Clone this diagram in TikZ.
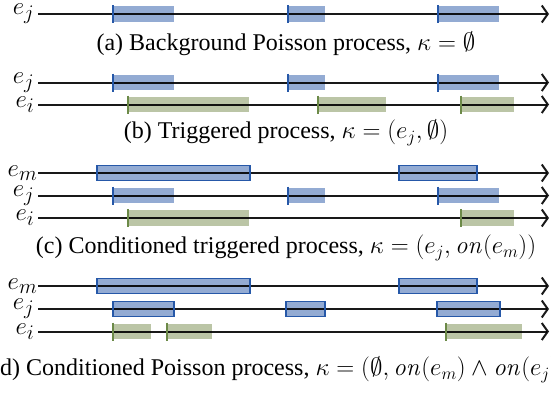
\documentclass[tikz,border=0pt]{standalone}
\usepackage[no-math]{fontspec}
\setmainfont{Liberation Serif}
\usetikzlibrary{arrows.meta}
\definecolor{bfill}{RGB}{147,171,211}
\definecolor{bdark}{RGB}{38,88,168}
\definecolor{gfill}{RGB}{187,197,166}
\definecolor{gdark}{RGB}{108,138,72}
\newcommand\ebox[4]{\fill[#1] (#2,#4-7.7) rectangle (#3,#4+7.7);}
\newcommand\mbx[3]{\fill[bfill] (#1,#3-8.3) rectangle (#2,#3+8.3);}
\newcommand\mbd[3]{\draw[bdark,line width=1.8pt] (#1,#3-7.5) rectangle (#2,#3+7.5);}
\newcommand\etick[3]{\draw[#1,line width=2.4pt] (#2+1,#3-9) -- (#2+1,#3+9);}
\begin{document}
\begin{tikzpicture}[x=1pt,y=-1pt,
  axis/.style={line width=2pt,draw opacity=0.9,-{Straight Barb[length=6pt,width=17pt]}},
  lab/.style={anchor=east,inner sep=0pt,font=\fontsize{28}{28}\selectfont},
  captxt/.style={inner sep=0pt,font=\fontsize{24}{28}\selectfont}]
\useasboundingbox (0,0) rectangle (551,394);
% ---------- (a)
\ebox{bfill}{112}{174}{14}\ebox{bfill}{287}{325}{14}\ebox{bfill}{437}{499}{14}
\node[lab] (aj) at (34.5,14) {$e_j$};
\coordinate (ajs) at (38,14);
\coordinate (aje) at (549,14);
\draw[axis] (ajs) -- (aje);
\etick{bdark}{112}{14}\etick{bdark}{287}{14}\etick{bdark}{437}{14}
\node[captxt] (capa) at (286,44) {(a) Background Poisson process, $\kappa=\emptyset$};
% ---------- (b)
\ebox{bfill}{112}{174}{82.5}\ebox{bfill}{287}{325}{82.5}\ebox{bfill}{437}{499}{82.5}
\ebox{gfill}{127}{249}{104.5}\ebox{gfill}{317}{386}{104.5}\ebox{gfill}{460}{514}{104.5}
\node[lab] (bj) at (34.5,82.5) {$e_j$};
\node[lab] (bi) at (34.5,104.5) {$e_i$};
\coordinate (bjs) at (38,82.5);
\coordinate (bis) at (38,104.5);
\coordinate (bje) at (549,82.5);
\coordinate (bie) at (549,104.5);
\draw[axis] (bjs) -- (bje);
\draw[axis] (bis) -- (bie);
\etick{bdark}{112}{82.5}\etick{bdark}{287}{82.5}\etick{bdark}{437}{82.5}
\etick{gdark}{127}{104.5}\etick{gdark}{317}{104.5}\etick{gdark}{460}{104.5}
\node[captxt] (capb) at (286,133) {(b) Triggered process, $\kappa=(e_j,\emptyset)$};
% ---------- (c)
\mbx{97}{250}{173}\mbx{399}{477}{173}
\ebox{bfill}{112}{174}{195.5}\ebox{bfill}{287}{325}{195.5}\ebox{bfill}{437}{499}{195.5}
\ebox{gfill}{127}{249}{218}\ebox{gfill}{460}{514}{218}
\node[lab] (cm) at (37.5,173) {$e_m$};
\node[lab] (cj) at (34.5,195.5) {$e_j$};
\node[lab] (ci) at (34.5,218) {$e_i$};
\coordinate (cms) at (38,173);
\coordinate (cjs) at (38,195.5);
\coordinate (cis) at (38,218);
\coordinate (cme) at (549,173);
\coordinate (cje) at (549,195.5);
\coordinate (cie) at (549,218);
\draw[axis] (cms) -- (cme);
\draw[axis] (cjs) -- (cje);
\draw[axis] (cis) -- (cie);
\mbd{97}{250}{173}\mbd{399}{477}{173}
\etick{bdark}{112}{195.5}\etick{bdark}{287}{195.5}\etick{bdark}{437}{195.5}
\etick{gdark}{127}{218}\etick{gdark}{460}{218}
\node[captxt] (capc) at (286,248) {(c) Conditioned triggered process, $\kappa=(e_j,\mathit{on}(e_m))$};
% ---------- (d)
\mbx{97}{250}{286}\mbx{399}{477}{286}
\mbx{113}{174}{309}\mbx{286}{325}{309}\mbx{437}{500}{309}
\ebox{gfill}{112}{151}{331.5}\ebox{gfill}{166}{212}{331.5}\ebox{gfill}{445}{522}{331.5}
\node[lab] (dm) at (37.5,286) {$e_m$};
\node[lab] (dj) at (34.5,309) {$e_j$};
\node[lab] (di) at (34.5,331.5) {$e_i$};
\coordinate (dms) at (38,286);
\coordinate (djs) at (38,309);
\coordinate (dis) at (38,331.5);
\coordinate (dme) at (549,286);
\coordinate (dje) at (549,309);
\coordinate (die) at (549,331.5);
\draw[axis] (dms) -- (dme);
\draw[axis] (djs) -- (dje);
\draw[axis] (dis) -- (die);
\mbd{97}{250}{286}\mbd{399}{477}{286}
\mbd{113}{174}{309}\mbd{286}{325}{309}\mbd{437}{500}{309}
\etick{gdark}{112}{331.5}\etick{gdark}{166}{331.5}\etick{gdark}{445}{331.5}
\node[captxt,anchor=west] (capd) at (-8,370) {(d) Conditioned Poisson process, $\kappa=(\emptyset,\mathit{on}(e_m)\wedge\mathit{on}(e_j))$};
\end{tikzpicture}
\end{document}
